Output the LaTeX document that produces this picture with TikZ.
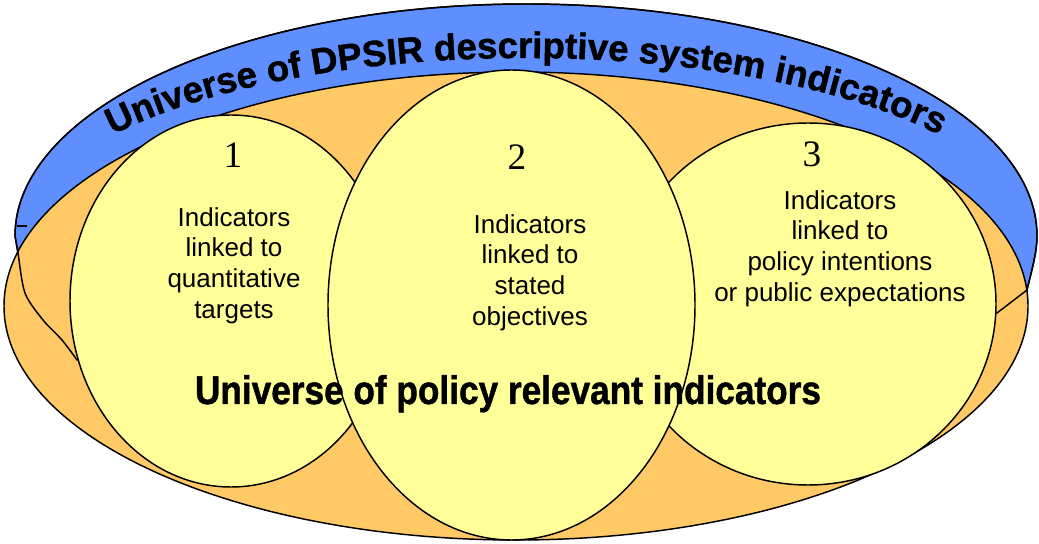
\documentclass[tikz,border=0pt]{standalone}
\usepackage{fontspec}
\setmainfont{Liberation Sans}
\newfontfamily\numfont{Liberation Serif}
\newfontfamily\heavyfont[FakeBold=1.2]{Liberation Sans Bold}
\usetikzlibrary{decorations.text}
\definecolor{dblue}{HTML}{5F8FFF}
\definecolor{dorange}{HTML}{FFC966}
\definecolor{dyellow}{HTML}{FFFF99}
\tikzset{
  outl/.style={draw=black, line width=1.1pt},
  bubble/.style={outl, fill=dyellow},
  lbl/.style={align=center, inner sep=0pt, anchor=north, font=\fontsize{19.5}{23}\selectfont},
  num/.style={inner sep=0pt, anchor=base, font=\numfont\fontsize{28}{30}\selectfont},
  bigt/.style={inner sep=0pt, anchor=base},
}
\newcommand{\bluepath}{plot[smooth] coordinates {(77,183) (62,203) (43,223) (25,250) (18,290) (15,307)}
  arc[start angle=180, end angle=0, x radius=511, y radius=232]
  .. controls (1037,290) and (1031,270) .. (1027,253) -- (997,230) -- cycle}
\newcommand{\toptext}{|\heavyfont\fontsize{27.5}{30}\selectfont|Universe of DPSIR descriptive system indicators}
\begin{document}
\begin{tikzpicture}[x=0.75pt, y=0.75pt]
\useasboundingbox (0,0) rectangle (1039,543);
% blue universe
\path[outl, fill=dblue] \bluepath;
% orange universe
\path[outl, fill=dorange] (516,237) ellipse [x radius=512, y radius=234];
% blue outline showing through
\path[outl] \bluepath;
\draw[outl] (17,317) -- (27,317);
% curved title
\path[decorate, decoration={text along path, text align=center, text color=black, text={\toptext}}]
  (24,307) arc[start angle=180, end angle=0, x radius=502, y radius=178];
% bubbles
\path[bubble] (231,242) ellipse [x radius=161, y radius=186];
\path[bubble] (808,239) ellipse [x radius=188, y radius=181];
\path[bubble] (511.5,238) ellipse [x radius=183.5, y radius=235];
% numbers
\node[num] (n1) at (233,375) {1};
\node[num] (n2) at (517,373) {2};
\node[num] (n3) at (812,376) {3};
% labels
\node[lbl] (l1) at (234,336) {Indicators\\linked to\\quantitative\\targets};
\node[lbl] (l2) at (530,329) {Indicators\\linked to\\stated\\objectives};
\node[lbl] (l3) at (840,353) {Indicators\\linked to\\policy intentions\\or public expectations};
% policy universe title
\node[bigt] (pol) at (508,139) {\scalebox{0.88}[1]{\heavyfont\fontsize{30}{32}\selectfont Universe of policy relevant indicators}};
\end{tikzpicture}
\end{document}
